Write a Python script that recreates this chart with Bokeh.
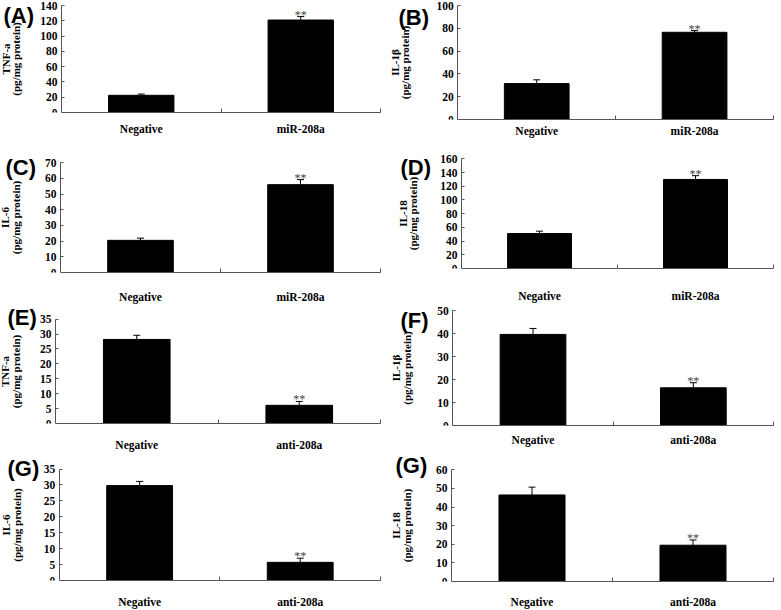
from bokeh.plotting import figure
from bokeh.models import Range1d, FixedTicker, Whisker, TeeHead, ColumnDataSource, Label
from bokeh.layouts import row, column
from bokeh.embed import file_html
from bokeh.resources import INLINE
from bokeh.core.properties import value

# ---------------- data ----------------
groups_mir = ["Negative", "miR-208a"]
groups_anti = ["Negative", "anti-208a"]

tnf_mir = [22.5, 121.0]
tnf_mir_err = [1.6, 4.5]
il1b_mir = [31.5, 76.5]
il1b_mir_err = [3.3, 1.5]
il6_mir = [20.5, 56.0]
il6_mir_err = [1.4, 3.2]
il18_mir = [51.0, 130.0]
il18_mir_err = [3.5, 5.5]

tnf_anti = [28.2, 6.1]
tnf_anti_err = [1.4, 1.3]
il1b_anti = [39.6, 16.4]
il1b_anti_err = [2.6, 2.2]
il6_anti = [29.8, 5.7]
il6_anti_err = [1.3, 1.3]
il18_anti = [46.5, 19.5]
il18_anti_err = [4.2, 2.8]

signif = ["", "**"]
letters = ["(A)", "(B)", "(C)", "(D)", "(E)", "(F)", "(G)", "(G)"]
ytitles = ["TNF-a", "IL-1\u03b2", "IL-6", "IL-18"]
yunit = "(pg/mg protein)"

SERIF = "Liberation Serif"
SANS = "Liberation Sans"
FS = "11.5px"
AX = "#555555"


def panel(letter, cats, vals, errs, ymax, step, ytitle, geom):
    # w,h: figure size; ax: y-axis x pixel; br: right border; bt: y-axis top pixel;
    # bb: bottom border; std: x-label standoff; tstd: y-title standoff; lx, ly: letter pos
    w, h, ax, br, bt, bb, std, tstd, lx, ly = geom
    n = len(cats)
    fw = w - br
    fh = h - bb
    x_lo = -n * ax / (fw - ax)
    y_hi = ymax * fh / (fh - bt)
    p = figure(width=w, height=h, x_range=Range1d(x_lo, n), y_range=Range1d(0, y_hi),
               output_backend="svg", toolbar_location=None, title=None,
               min_border_left=0, min_border_right=br, min_border_top=0,
               min_border_bottom=bb, outline_line_color=None,
               background_fill_color="white", border_fill_color="white")
    p.xgrid.visible = False
    p.ygrid.visible = False
    centers = [i + 0.5 for i in range(n)]
    upper = [v + e for v, e in zip(vals, errs)]
    src = ColumnDataSource(dict(x=centers, top=vals, lower=vals, upper=upper, sig=signif))
    p.vbar(x="x", top="top", width=0.41, source=src, fill_color="black", line_color="black")
    p.add_layout(Whisker(source=src, base="x", lower="lower", upper="upper",
                         line_color="black", line_width=1,
                         upper_head=TeeHead(size=7, line_color="black", line_width=1),
                         lower_head=None))
    p.text(x="x", y="upper", text="sig", source=src, text_font=value(SERIF),
           text_font_size="12px", text_color="#444444", text_align="center",
           text_baseline="alphabetic", y_offset=-2)

    ya = p.yaxis[0]
    ya.fixed_location = 0
    ya.bounds = (0, ymax)
    ya.ticker = FixedTicker(ticks=list(range(0, ymax + 1, step)))
    ya.minor_tick_line_color = None
    ya.major_tick_in = 3
    ya.major_tick_out = 0
    ya.major_tick_line_color = AX
    ya.axis_line_color = AX
    ya.major_label_text_font = SERIF
    ya.major_label_text_font_style = "bold"
    ya.major_label_text_font_size = FS
    ya.major_label_text_color = "black"
    ya.major_label_standoff = 4
    ya.axis_label = ytitle + "\n" + yunit
    ya.axis_label_text_font = SERIF
    ya.axis_label_text_font_style = "bold"
    ya.axis_label_text_font_size = "11px"
    ya.axis_label_text_color = "black"
    ya.axis_label_text_line_height = 0.88
    ya.axis_label_standoff = tstd

    xa = p.xaxis[0]
    xa.bounds = (0, n)
    xa.ticker = FixedTicker(ticks=centers, minor_ticks=list(range(1, n + 1)))
    xa.major_label_overrides = {c: name for c, name in zip(centers, cats)}
    xa.major_tick_line_color = None
    xa.minor_tick_in = 4
    xa.minor_tick_out = 0
    xa.minor_tick_line_color = AX
    xa.axis_line_color = AX
    xa.major_label_text_font = SERIF
    xa.major_label_text_font_style = "bold"
    xa.major_label_text_font_size = FS
    xa.major_label_text_color = "black"
    xa.major_label_standoff = std

    # panel letter, screen units relative to the plot frame (bottom-left origin)
    p.add_layout(Label(x=lx, y=fh - (ly - 3), x_units="screen", y_units="screen",
                       text=letter, text_font=SANS, text_font_style="bold",
                       text_font_size="22px", text_color="black",
                       text_baseline="top", text_align="left"))
    return p


# geometry: w, h, axis x, border r, axis top, border b, x std, title std, letter x, letter top
pA = panel(letters[0], groups_mir, tnf_mir, tnf_mir_err, 140, 20, ytitles[0],
           (390, 145, 61, 10, 5, 33, 4, 15, 3, 5))
pC = panel(letters[2], groups_mir, il6_mir, il6_mir_err, 70, 10, ytitles[2],
           (390, 160, 60, 10, 18, 27, 12, 20, 5, 18))
pE = panel(letters[4], groups_anti, tnf_anti, tnf_anti_err, 35, 5, ytitles[0],
           (390, 148, 55, 10, 14, 27, 9, 15, 7, 5))
pG = panel(letters[6], groups_anti, il6_anti, il6_anti_err, 35, 5, ytitles[2],
           (390, 157, 59, 9, 16, 26, 9, 18, 7, 9))

pB = panel(letters[1], groups_mir, il1b_mir, il1b_mir_err, 100, 20, ytitles[1],
           (391, 146, 68, 4, 5, 27, -1, 22, 8, 7))
pD = panel(letters[3], groups_mir, il18_mir, il18_mir_err, 160, 20, ytitles[3],
           (391, 158, 72, 3, 13, 30, 15, 18, 10, 17))
pF = panel(letters[5], groups_anti, il1b_anti, il1b_anti_err, 50, 10, ytitles[1],
           (391, 148, 63, 4, 6, 27, 2, 21, 10, 6))
pH = panel(letters[7], groups_anti, il18_anti, il18_anti_err, 60, 10, ytitles[3],
           (391, 158, 61, 8, 18, 24, 8, 20, 5, 8))

layout = row(column(pA, pC, pE, pG), column(pB, pD, pF, pH))

open("out.html", "w").write(file_html(layout, INLINE))
